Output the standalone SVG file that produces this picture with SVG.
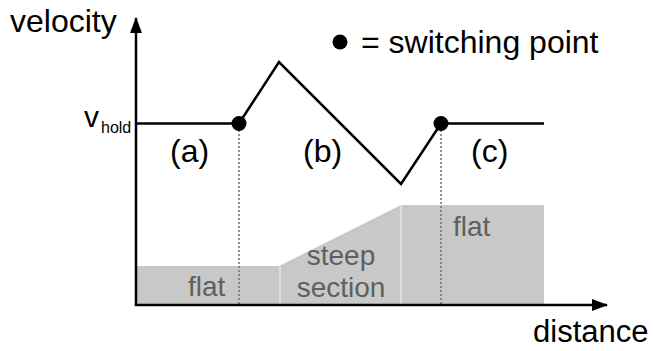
<svg xmlns="http://www.w3.org/2000/svg" width="653" height="351" viewBox="0 0 653 351">
<style>
.t{font-family:"Liberation Sans",Arial,sans-serif;fill:#000}
.g{font-family:"Liberation Sans",Arial,sans-serif;fill:#5f5f5f;font-size:28px}
.ax{stroke:#000;stroke-width:2.5;fill:none}
.dot{stroke:#6f6f6f;stroke-width:1.5;stroke-dasharray:2,2;fill:none}
.sep{stroke:#e6e6e6;stroke-width:1.5}
</style>
<defs>
<marker id="arr" markerWidth="16" markerHeight="12" refX="15" refY="6" orient="auto" markerUnits="userSpaceOnUse">
<path d="M0,0 L16,6 L0,12 Z" fill="#000"/>
</marker>
</defs>
<rect width="653" height="351" fill="#fff"/>
<g id="terrain">
<polygon points="136,266 279,266 401,205 544,205 544,305 136,305" fill="#c8c8c8"/>
<line class="sep" x1="280" y1="266" x2="280" y2="304"/>
<line class="sep" x1="401" y1="205" x2="401" y2="304"/>
<text class="g" x="188" y="296">flat</text>
<text class="g" x="341" y="265" text-anchor="middle">steep</text>
<text class="g" x="341" y="297" text-anchor="middle">section</text>
<text class="g" x="453" y="236">flat</text>
</g>
<g id="connectors">
<line class="dot" x1="239" y1="130" x2="239" y2="305"/>
<line class="dot" x1="441" y1="130" x2="441" y2="305"/>
<polyline class="ax" points="136,123.5 239,123.5 279,62 401,184 441,123.5 544,123.5" stroke-linejoin="miter"/>
<line class="ax" x1="136" y1="306" x2="136" y2="18" marker-end="url(#arr)"/>
<line class="ax" x1="134.8" y1="305" x2="607" y2="305" marker-end="url(#arr)"/>
</g>
<g id="sw1"><circle cx="239" cy="123.5" r="7.5" fill="#000"/></g>
<g id="sw2"><circle cx="441" cy="123.5" r="7.5" fill="#000"/></g>
<g id="labels">
<text class="t" x="10" y="32" font-size="32">velocity</text>
<text class="t" x="533" y="342" font-size="31">distance</text>
<text class="t" x="84" y="127" font-size="30">v</text>
<text class="t" x="101" y="133" font-size="16">hold</text>
<text class="t" x="170" y="162" font-size="32">(a)</text>
<text class="t" x="303" y="162" font-size="32">(b)</text>
<text class="t" x="471" y="162" font-size="32">(c)</text>
</g>
<g id="legend">
<circle cx="340" cy="42" r="7.5" fill="#000"/>
<text class="t" x="361" y="53" font-size="32">= switching point</text>
</g>
</svg>
